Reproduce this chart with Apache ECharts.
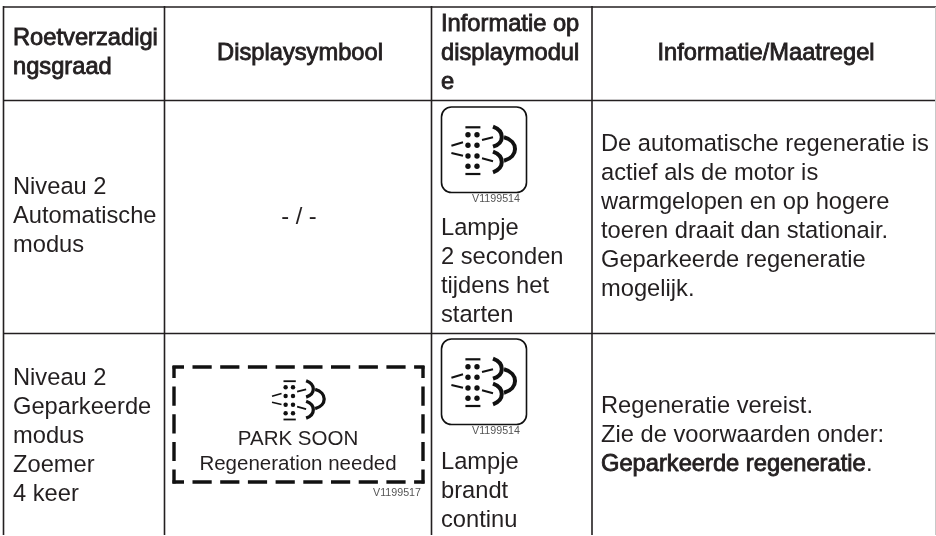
<!DOCTYPE html>
<html>
<head>
<meta charset="utf-8">
<style>html,body{margin:0;padding:0;background:#fff}#main{width:936px;height:536px}</style>
<script src="https://cdn.jsdelivr.net/npm/echarts@6/dist/echarts.min.js"></script>
</head>
<body>
<div id="main"></div>
<script>
// table content
const headers = [['Roetverzadigi', 'ngsgraad'], ['Displaysymbool'], ['Informatie op', 'displaymodul', 'e'], ['Informatie/Maatregel']];
const col1 = [['Niveau 2', 'Automatische', 'modus'], ['Niveau 2', 'Geparkeerde', 'modus', 'Zoemer', '4 keer']];
const col2Row1 = '- / -';
const col2Row2 = ['PARK SOON', 'Regeneration needed'];
const col3 = [['Lampje', '2 seconden', 'tijdens het', 'starten'], ['Lampje', 'brandt', 'continu']];
const col4Row1 = ['De automatische regeneratie is', 'actief als de motor is', 'warmgelopen en op hogere', 'toeren draait dan stationair.', 'Geparkeerde regeneratie', 'mogelijk.'];
const col4Row2 = ['Regeneratie vereist.', 'Zie de voorwaarden onder:'];
const col4Row2Bold = 'Geparkeerde regeneratie';
const iconCode = 'V1199514';
const symbolCode = 'V1199517';

const INK = '#231f20';
const FONT = '"Liberation Sans", Arial, sans-serif';

const gridX = [3.5, 164.5, 431.5, 592];
const gridY = [7, 100.5, 333.5];

const elements = [];

function line(x1, y1, x2, y2, width, color, dash, offset) {
    elements.push({
        type: 'line',
        shape: { x1, y1, x2, y2 },
        style: { stroke: color || INK, lineWidth: width || 1.6, lineDash: dash || null, lineDashOffset: offset || 0 }
    });
}

function text(str, x, y, opts) {
    const o = opts || {};
    elements.push({
        type: 'text',
        x: x,
        y: y + 1.5,
        style: {
            text: str,
            fill: o.color || INK,
            font: (o.size || 23.7) + 'px ' + FONT,
            align: o.align || 'left',
            verticalAlign: 'middle',
            stroke: o.bold ? INK : null,
            lineWidth: o.bold ? 0.85 : 0
        }
    });
}

// lines of text, spaced evenly from the first line's centre
function block(lines, x, y, opts) {
    lines.forEach((l, i) => text(l, x, y + i * 28.9, opts));
}

// soot / exhaust symbol, coordinates relative to the lamp box centre
function sootIcon(cx, cy, s) {
    const p = [];
    const seg = (x1, y1, x2, y2, w) => p.push({
        type: 'line',
        shape: { x1, y1, x2, y2 },
        style: { stroke: '#111', lineWidth: w }
    });
    const arc = (x1, y1, cpx1, cpy1, cpx2, cpy2, x2, y2) => p.push({
        type: 'bezierCurve',
        shape: { x1, y1, cpx1, cpy1, cpx2, cpy2, x2, y2 },
        style: { stroke: '#111', lineWidth: 4, fill: null }
    });
    seg(-18.3, -21.7, -3.3, -21.7, 2.2);
    seg(-18.3, 25, -3.3, 25, 2.2);
    [-14.3, -3.7, 7, 17.3].forEach(y => {
        [-15.7, -6.7].forEach(x => p.push({
            type: 'circle',
            shape: { cx: x, cy: y, r: 2.7 },
            style: { fill: '#111' }
        }));
    });
    seg(-32.3, -3.3, -20.7, -6.7, 2);
    seg(-32.3, 4, -20.7, 6.7, 2);
    seg(-1.7, -9, 9.3, -11.7, 2);
    seg(-1.7, 9.3, 9.3, 12.3, 2);
    arc(9.3, -22.3, 21, -18, 21, -6, 9.3, -2.3);
    arc(9.3, 2.7, 21, 7, 21, 19, 9.3, 23.3);
    arc(20.3, -11.7, 35, -8, 35, 8, 20.3, 11.7);
    elements.push({ type: 'group', x: cx, y: cy, scaleX: s, scaleY: s, children: p });
}

// grid
gridY.forEach(y => line(3, y, 936, y));
gridX.forEach(x => line(x, 6, x, 535));
line(935.5, 7, 935.5, 535, 1, '#c8c8c8');

// headers
block(headers[0], 13, 37, { bold: true });
text(headers[1][0], 300, 52, { bold: true, align: 'center' });
block(headers[2], 441, 23, { bold: true });
text(headers[3][0], 766, 52, { bold: true, align: 'center' });

// first column
block(col1[0], 13, 186);
block(col1[1], 13, 377);

// second column
text(col2Row1, 299, 216, { align: 'center' });
const boxDash = [19.2, 8.5];
line(172.5, 367, 424.5, 367, 3.4, '#111', boxDash, 7.7);
line(172.5, 482, 424.5, 482, 3.4, '#111', boxDash, 7.7);
line(174, 366, 174, 483.5, 3.4, '#111', boxDash, 7.2);
line(423, 366, 423, 483.5, 3.4, '#111', boxDash, 7.2);
sootIcon(298.5, 399, 0.82);
text(col2Row2[0], 298, 437.5, { size: 20.5, align: 'center' });
text(col2Row2[1], 298, 462.5, { size: 20.5, align: 'center' });
text(symbolCode, 421, 492, { size: 10.7, align: 'right', color: '#555' });

// third column
[107, 339].forEach(top => {
    elements.push({
        type: 'rect',
        shape: { x: 441.5, y: top, width: 85, height: 85.5, r: 10 },
        style: { stroke: '#111', lineWidth: 1.6, fill: null }
    });
    sootIcon(483.7, top + 42, 1);
    text(iconCode, 520, top + 91, { size: 10.7, align: 'right', color: '#555' });
});
block(col3[0], 441, 227);
block(col3[1], 441, 461);

// fourth column
block(col4Row1, 601, 143);
block(col4Row2, 601, 405);
text(col4Row2Bold, 601, 463, { bold: true });
text('.', 866, 463);

const chart = echarts.init(document.getElementById('main'), null, { renderer: 'canvas' });
chart.setOption({
    animation: false,
    backgroundColor: '#fff',
    graphic: { elements: elements }
});
</script>
</body>
</html>
